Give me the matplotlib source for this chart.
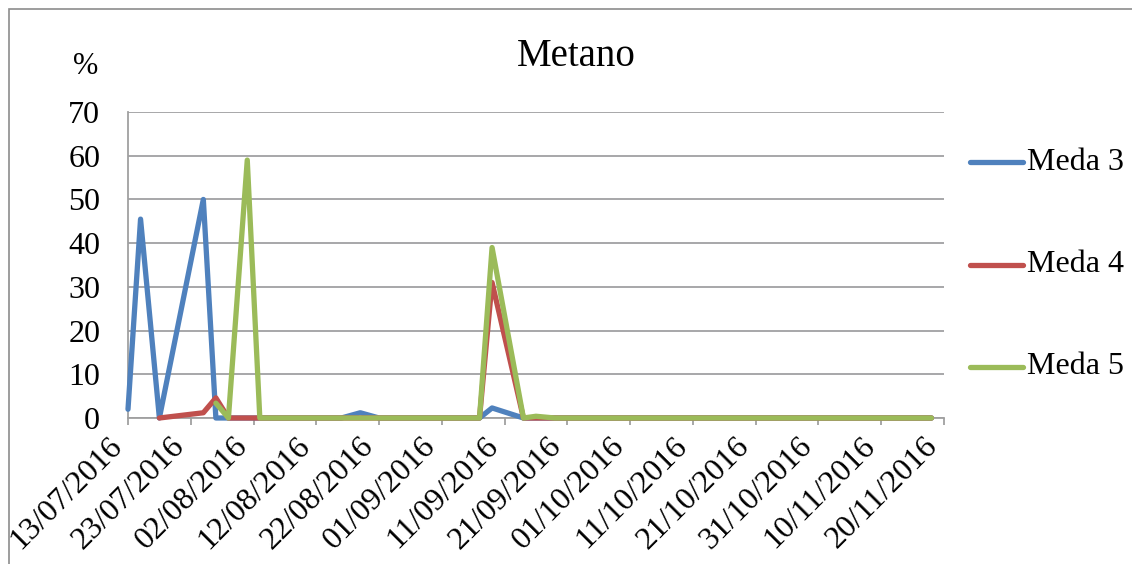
import matplotlib
matplotlib.use("Agg")
import matplotlib.pyplot as plt
import matplotlib.transforms as mtransforms
from matplotlib.lines import Line2D
from matplotlib.patches import Rectangle
import numpy as np
import pandas as pd

# Sampling dates and methane concentration (%) per pile
dates = ["13/07/2016", "15/07/2016", "18/07/2016", "25/07/2016", "27/07/2016",
         "29/07/2016", "01/08/2016", "03/08/2016", "10/08/2016", "16/08/2016",
         "19/08/2016", "22/08/2016", "29/08/2016", "07/09/2016", "09/09/2016",
         "14/09/2016", "16/09/2016", "19/09/2016", "26/09/2016", "03/10/2016",
         "10/10/2016", "17/10/2016", "24/10/2016", "31/10/2016", "07/11/2016",
         "14/11/2016", "18/11/2016"]
nan = np.nan
meda3 = [2, 45.5, 0, 50, 0, 0, 0, 0, 0, 0, 1.2, 0, 0, 0, 2.3,
         0, 0, 0, 0, 0, 0, 0, 0, 0, 0, 0, 0]
meda4 = [nan, nan, 0, 1.2, 4.6, 0, 0, 0, 0, 0, 0, 0, 0, 0, 31,
         0, 0, 0, 0, 0, 0, 0, 0, 0, 0, 0, 0]
meda5 = [nan, nan, nan, nan, 3.4, 0, 59, 0, 0, 0, 0, 0, 0, 0, 39,
         0, 0.4, 0, 0, 0, 0, 0, 0, 0, 0, 0, 0]
series_names = ["Meda 3", "Meda 4", "Meda 5"]
colors = ["#4F81BD", "#C0504D", "#9BBB59"]
tick_labels = ["13/07/2016", "23/07/2016", "02/08/2016", "12/08/2016",
               "22/08/2016", "01/09/2016", "11/09/2016", "21/09/2016",
               "01/10/2016", "11/10/2016", "21/10/2016", "31/10/2016",
               "10/11/2016", "20/11/2016"]

plt.rcParams["font.family"] = ["Liberation Serif", "DejaVu Serif"]

W, H = 1132, 564
fig = plt.figure(figsize=(W / 100, H / 100), dpi=100)

# Outer chart frame (right and bottom edges fall outside the canvas)
fig.patches.append(Rectangle((9 / W, -0.05), (1140 - 9) / W, 0.05 + (H - 9) / H,
                             transform=fig.transFigure, fill=False,
                             edgecolor="#8C8C8C", linewidth=1.2))

ax = fig.add_axes([128 / W, (H - 418) / H, (944 - 128) / W, (418 - 112) / H])

x = pd.to_datetime(dates, format="%d/%m/%Y")
for vals, col in zip([meda3, meda4, meda5], colors):
    ax.plot(x, vals, color=col, linewidth=3.8, solid_joinstyle="round",
            solid_capstyle="round", zorder=3, clip_on=False)

ticks = pd.to_datetime(tick_labels, format="%d/%m/%Y")
ax.set_xlim(ticks[0], ticks[-1])
ax.set_ylim(0, 70)
ax.set_yticks(range(0, 71, 10))
ax.set_xticks(ticks)
ax.set_xticklabels(tick_labels, rotation=45, ha="right", va="top",
                   fontsize=23)
shift = mtransforms.ScaledTranslation(5 / 100, 0, fig.dpi_scale_trans)
for lbl in ax.get_xticklabels():
    lbl.set_transform(lbl.get_transform() + shift)
ax.tick_params(axis="x", length=5, width=1.3, color="#A0A0A0", pad=5)
ax.tick_params(axis="y", length=0, pad=20, labelsize=23)

ax.grid(axis="y", color="#A0A0A3", linewidth=1.3, zorder=0)
for side in ["top", "right"]:
    ax.spines[side].set_visible(False)
for side in ["left", "bottom"]:
    ax.spines[side].set_color("#A0A0A0")
    ax.spines[side].set_linewidth(1.3)

# Unit label and title
fig.text(86 / W, 1 - 67 / H, "%", ha="center", va="center", fontsize=22)
fig.text(576 / W, 1 - 57 / H, "Metano", ha="center", va="center", fontsize=28)

# Legend drawn at fixed spots on the right
for name, col, yp in zip(series_names, colors, [162, 265, 367]):
    fig.lines.append(Line2D([970 / W, 1023 / W], [1 - yp / H, 1 - yp / H],
                            transform=fig.transFigure, color=col,
                            linewidth=3.8, solid_capstyle="round"))
    fig.text(1027 / W, 1 - yp / H, name, ha="left", va="center", fontsize=23)

fig.savefig("out.png", dpi=100)
